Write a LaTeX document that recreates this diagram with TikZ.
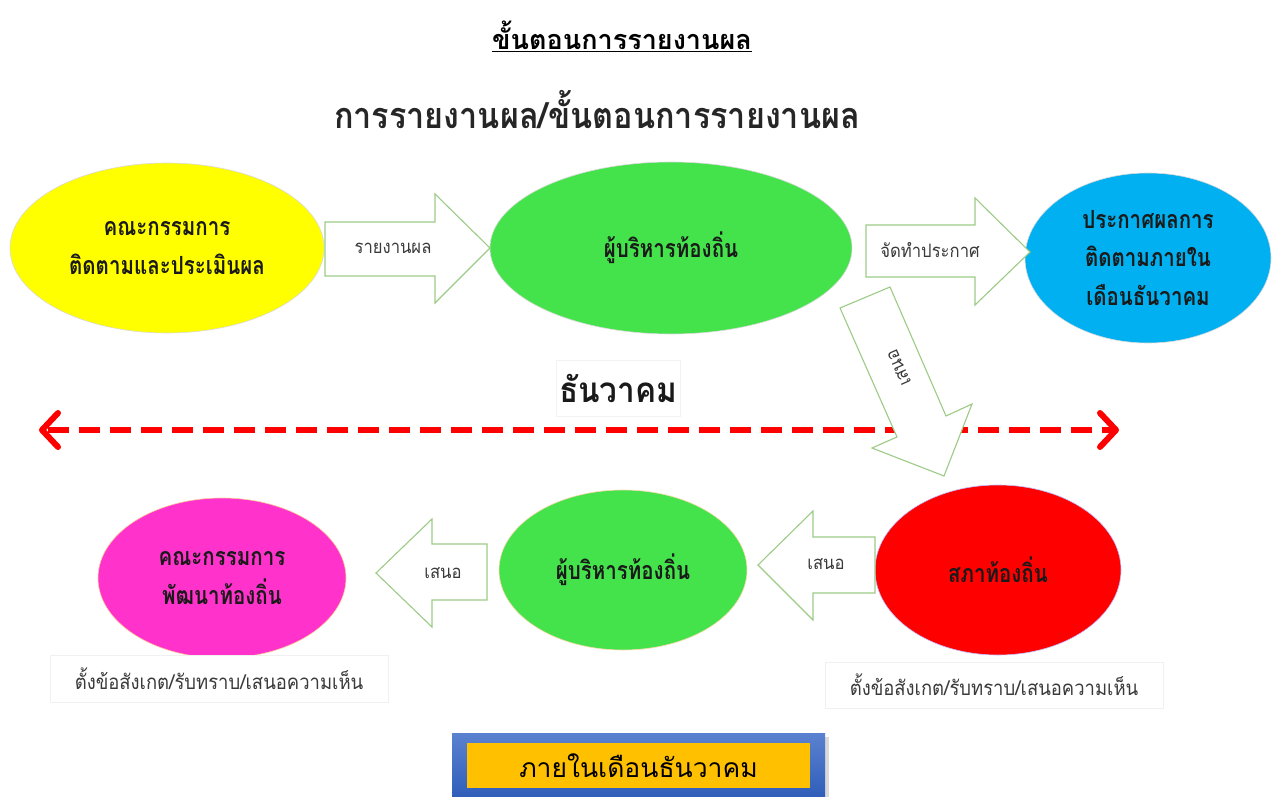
\documentclass[tikz,border=0pt]{standalone}
\usepackage{fontspec}
\setmainfont[Script=Thai]{Loma}
\newfontfamily\thcond[Script=Thai,FakeStretch=0.82]{Loma}
\newfontfamily\thmid[Script=Thai,FakeStretch=0.9]{Loma}
\usetikzlibrary{shapes.geometric}
\definecolor{cyel}{HTML}{FFFF00}
\definecolor{cgrn}{HTML}{45E34B}
\definecolor{cblu}{HTML}{00B0F0}
\definecolor{cmag}{HTML}{FF33CC}
\definecolor{cred}{HTML}{FF0000}
\definecolor{carr}{HTML}{9CCB86}
\definecolor{cgold}{HTML}{FFC000}
\definecolor{ctxt}{HTML}{1A1A1A}
\definecolor{cgtxt}{HTML}{3A3A3A}
\definecolor{cboxtop}{HTML}{5B82D0}
\definecolor{cboxbot}{HTML}{2D5CB8}
\tikzset{
  ell/.style={ellipse, inner sep=0pt, align=center, draw=black!15, line width=0.6pt,
    text=ctxt, font=\thcond\bfseries\fontsize{25}{38.5}\selectfont},
  blockarrow/.style={draw=carr, line width=1.1pt, fill=white, line join=miter},
  arrtext/.style={text=cgtxt, font=\thmid\fontsize{18.5}{20}\selectfont, inner sep=0pt},
  caption/.style={draw=black!6, fill=white, inner sep=0pt, text=cgtxt,
    font=\thmid\fontsize{20.5}{22}\selectfont}
}
\begin{document}
\begin{tikzpicture}[x=1pt,y=-1pt]
\useasboundingbox (0,0) rectangle (1272,797);

% titles
\node (title) at (622,36) {\fontsize{27}{30}\selectfont\bfseries\underline{ขั้นตอนการรายงานผล}};
\node[text=black!85] (sub) at (597,110) {\thmid\fontsize{36}{40}\selectfont\bfseries การรายงานผล/ขั้นตอนการรายงานผล};

% top row ellipses
\node[ell, fill=cyel, minimum width=314pt, minimum height=170pt] (e1) at (167,248) {คณะกรรมการ\\ติดตามและประเมินผล};
\node[ell, fill=cgrn, minimum width=362pt, minimum height=172pt] (e2) at (671,248) {ผู้บริหารท้องถิ่น};
\node[ell, fill=cblu, minimum width=246pt, minimum height=170pt] (e3) at (1148,258) {ประกาศผลการ\\ติดตามภายใน\\เดือนธันวาคม};

% top block arrows
\draw[blockarrow] (325,222) -- (435,222) -- (435,194) -- (490,248) -- (435,303) -- (435,276) -- (325,276) -- cycle;
\node[arrtext] (t1) at (393,248) {รายงานผล};
\draw[blockarrow] (866,225) -- (975,225) -- (975,198) -- (1030,252) -- (975,305) -- (975,277) -- (866,277) -- cycle;
\node[arrtext] (t2) at (930,250) {จัดทำประกาศ};

% month label and dashed line
\node[draw=black!5, fill=white, minimum width=124pt, minimum height=56pt, inner sep=0pt] (mbox) at (618,388) {};
\node[font=\thmid\bfseries\fontsize{35}{36}\selectfont, text=ctxt] (month) at (mbox.center) {ธันวาคม};
\coordinate (dl) at (42,430);
\coordinate (dr) at (1116,430);
\draw[cred, line width=6.5pt, dash pattern=on 21pt off 10pt, dash phase=-6pt] (dl) -- (dr);
\draw[cred, line width=6pt, line cap=round, line join=round] ([shift={(16,-17)}]dl) -- (dl) -- ([shift={(16,17)}]dl);
\draw[cred, line width=6pt, line cap=round, line join=round] ([shift={(-16,-17)}]dr) -- (dr) -- ([shift={(-16,17)}]dr);

% diagonal arrow
\draw[blockarrow] (840,308) -- (890,287) -- (946,416) -- (972,404) -- (944,476) -- (872,448) -- (897,437) -- cycle;
\node[arrtext, rotate=114] (t3) at (899,368) {เสนอ};

% bottom row ellipses
\node[ell, fill=cmag, draw=orange!40, minimum width=248pt, minimum height=160pt] (e4) at (222,578) {คณะกรรมการ\\พัฒนาท้องถิ่น};
\node[ell, fill=cgrn, draw=orange!30, minimum width=248pt, minimum height=160pt] (e5) at (623,570) {ผู้บริหารท้องถิ่น};
\node[ell, fill=cred, draw=blue!25, minimum width=246pt, minimum height=170pt] (e6) at (998,570) {สภาท้องถิ่น};

% bottom block arrows (pointing left)
\draw[blockarrow] (487,544) -- (432,544) -- (432,519) -- (376,573) -- (432,627) -- (432,600) -- (487,600) -- cycle;
\node[arrtext] (t4) at (443,573) {เสนอ};
\draw[blockarrow] (875,537) -- (813,537) -- (813,511) -- (758,565) -- (813,620) -- (813,593) -- (875,593) -- cycle;
\node[arrtext] (t5) at (826,564) {เสนอ};

% captions
\node[caption, minimum width=338pt, minimum height=47pt] (c1) at (219,679) {ตั้งข้อสังเกต/รับทราบ/เสนอความเห็น};
\node[caption, minimum width=338pt, minimum height=46pt] (c2) at (994,685) {ตั้งข้อสังเกต/รับทราบ/เสนอความเห็น};

% bottom box
\fill[black!15] (456,737) rectangle (829,800);
\shade[top color=cboxtop, bottom color=cboxbot] (452,733) rectangle (825,800);
\node[fill=cgold, minimum width=343pt, minimum height=45pt, inner sep=0pt] (gold) at (638.5,765.5) {};
\node[font=\fontsize{26.5}{30}\selectfont, text=black] (bottom) at (gold.center) {ภายในเดือนธันวาคม};
\end{tikzpicture}
\end{document}
